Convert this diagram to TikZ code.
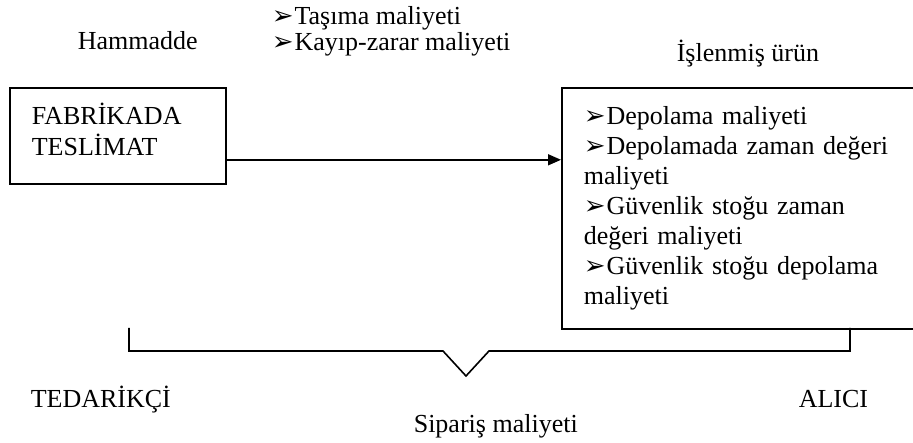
\documentclass[tikz,border=0pt]{standalone}
\usepackage{fontspec}
\setmainfont{Liberation Serif}
\newfontfamily\dejavu{DejaVu Sans}
\usetikzlibrary{arrows.meta}
\newcommand{\madde}{{\dejavu\fontsize{26}{26}\selectfont ➢}\hspace{1pt}}
\begin{document}
\begin{tikzpicture}[x=1pt,y=-1pt,line width=1.6pt,>={Triangle[length=13pt,width=11pt]},
  yazi/.style={inner sep=0pt,anchor=base west,align=left,font=\fontsize{26}{30}\selectfont},
  kutu/.style={draw,anchor=north west,align=left,inner xsep=22pt,inner ysep=0pt,font=\fontsize{26}{30}\selectfont}]
\useasboundingbox (0,0) rectangle (913,443);
\node at (77,50) [yazi] (hammadde) {Hammadde};
\node at (271,51) [yazi,font=\fontsize{26}{26}\selectfont] (tasima) {\madde Taşıma maliyeti\\\madde Kayıp-zarar maliyeti};
\node at (676,62) [yazi] (urun) {İşlenmiş ürün};
\node at (9,87) [kutu,minimum width=216pt,minimum height=96pt,text width=172pt,font=\fontsize{26}{31}\selectfont] (fabrika) {FABRİKADA\\TESLİMAT\rule[-14pt]{0pt}{14pt}};
\node at (561,87) [kutu,minimum height=241pt,text width=316pt] (depo) {\madde Depolama maliyeti\\\madde Depolamada zaman değeri\\maliyeti\\\madde Güvenlik stoğu zaman\\değeri maliyeti\\\madde Güvenlik stoğu depolama\\maliyeti};
\coordinate (okbas) at ([yshift=-24pt]fabrika.east);
\draw[->] (okbas) -- (okbas -| depo.west);
\draw (129,328) |- (443,351) -- (466,376) -- (489,351) -| (850,328);
\node at (30,408) [yazi] (tedarikci) {TEDARİKÇİ};
\node at (798,408) [yazi] (alici) {ALICI};
\node at (413,432) [yazi] (siparis) {Sipariş maliyeti};
\end{tikzpicture}
\end{document}
